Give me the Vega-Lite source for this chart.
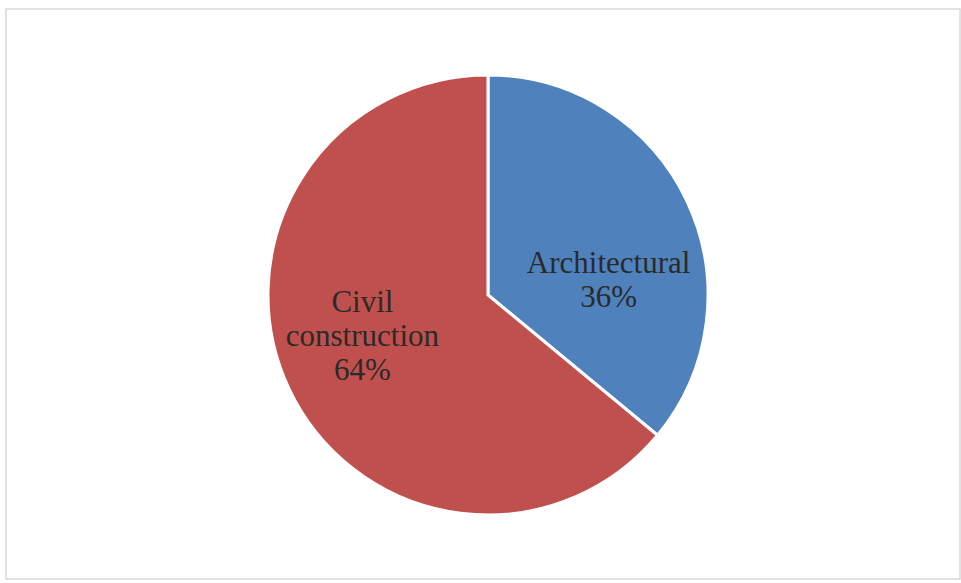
{
  "$schema": "https://vega.github.io/schema/vega-lite/v6.json",
  "width": 961,
  "height": 583,
  "autosize": {"type": "fit", "contains": "padding"},
  "padding": {"left": 5, "top": 8, "right": 0, "bottom": 3},
  "background": "white",
  "config": {
    "view": {"stroke": null},
    "text": {"font": "Liberation Serif"}
  },
  "data": {
    "values": [
      {"category": "Architectural", "share": 36, "order": 1, "label": "Architectural\n36%"},
      {"category": "Civil construction", "share": 64, "order": 2, "label": "Civil\nconstruction\n64%"}
    ]
  },
  "layer": [
    {
      "data": {"values": [{"frame": 1}]},
      "mark": {
        "type": "rect",
        "x": 0,
        "x2": "width",
        "y": 0,
        "y2": "height",
        "fill": null,
        "stroke": "#d9d9d9",
        "strokeWidth": 1.5
      }
    },
    {
      "mark": {
        "type": "arc",
        "outerRadius": 220,
        "stroke": "white",
        "strokeWidth": 3,
        "x": {"expr": "width/2+5"},
        "y": {"expr": "height/2+1"}
      },
      "encoding": {
        "theta": {"field": "share", "type": "quantitative", "stack": true, "scale": {"domain": [0, 100]}},
        "order": {"field": "order", "type": "quantitative"},
        "color": {
          "field": "category",
          "type": "nominal",
          "scale": {"domain": ["Architectural", "Civil construction"], "range": ["#4f81bd", "#c0504d"]},
          "legend": null
        }
      }
    },
    {
      "mark": {
        "type": "text",
        "radius": 120,
        "dx": {"expr": "datum.category === 'Architectural' ? 12 : -17"},
        "dy": {"expr": "datum.category === 'Architectural' ? 20 : -43"},
        "fontSize": 31,
        "lineHeight": 34,
        "lineBreak": "\n",
        "align": "center",
        "baseline": "middle",
        "color": "#2a2a2a",
        "x": {"expr": "width/2+5"},
        "y": {"expr": "height/2+1"}
      },
      "encoding": {
        "theta": {"field": "share", "type": "quantitative", "stack": true},
        "order": {"field": "order", "type": "quantitative"},
        "text": {"field": "label", "type": "nominal"}
      }
    }
  ]
}
